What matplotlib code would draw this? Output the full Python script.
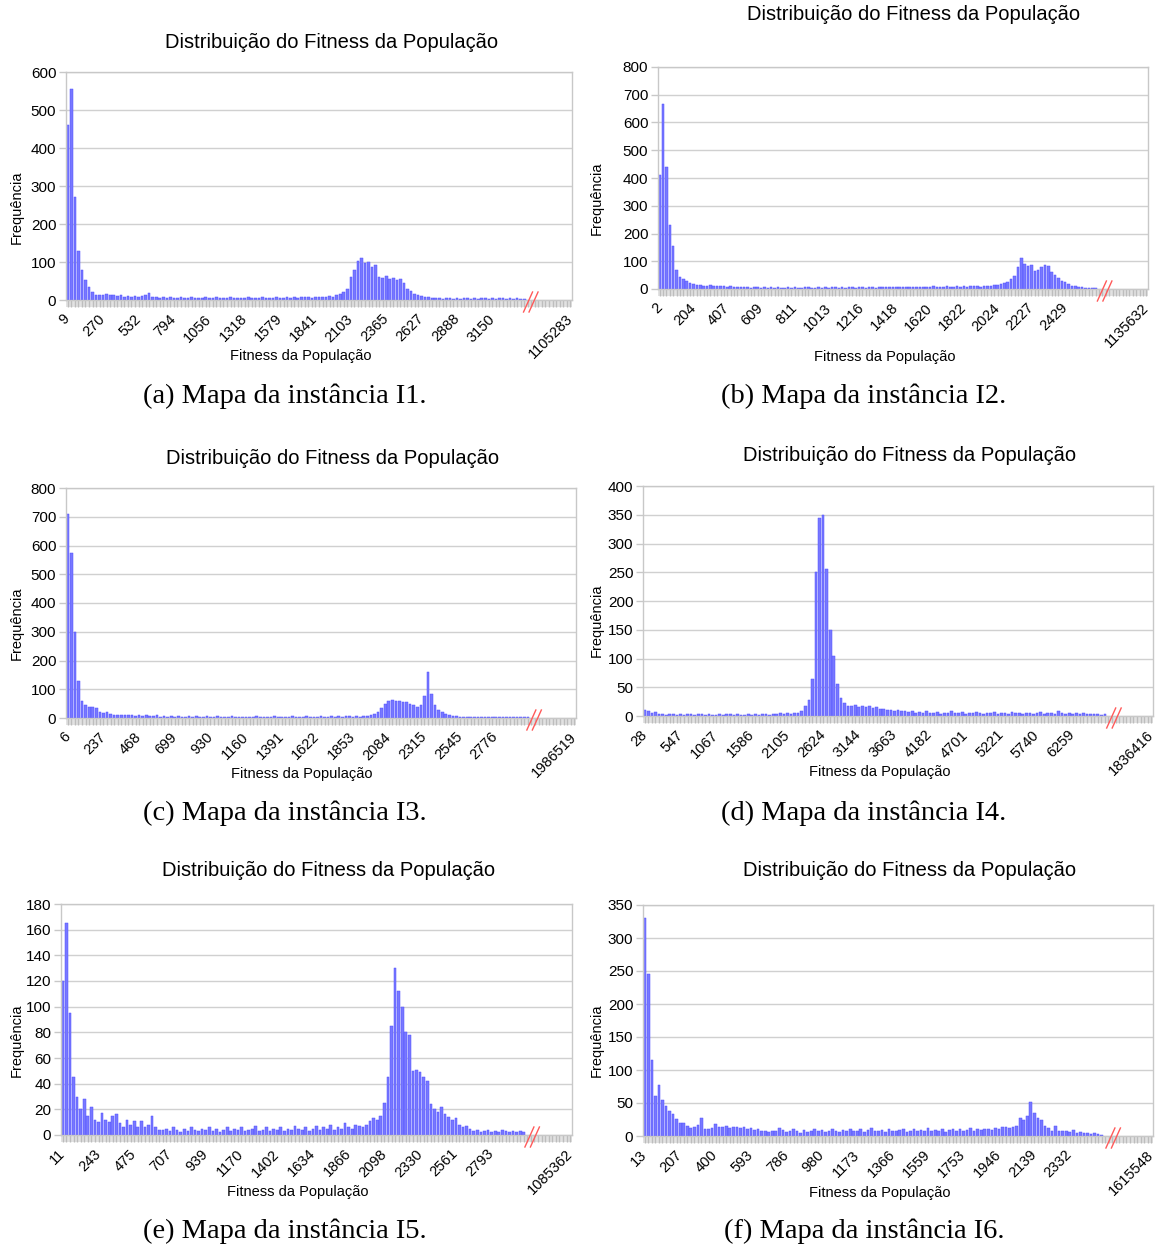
import matplotlib
matplotlib.use("Agg")
import matplotlib.pyplot as plt
from matplotlib.lines import Line2D
from matplotlib.patches import Rectangle

plt.rcParams['font.family'] = ['Liberation Sans', 'DejaVu Sans']

# ---------------------------------------------------------------- data
TITLE = "Distribuição do Fitness da População"
XLABEL = "Fitness da População"
YLABEL = "Frequência"

freq_i1 = [460, 555, 270, 130, 80, 53, 35, 20, 14, 13,
           12, 16, 12, 14, 11, 13, 8, 10, 7, 11,
           9, 10, 12, 18, 9, 8, 6, 7, 5, 8,
           6, 5, 9, 4, 6, 7, 5, 6, 4, 7,
           5, 6, 8, 4, 5, 6, 7, 5, 4, 6,
           5, 7, 4, 6, 5, 8, 4, 5, 6, 7,
           5, 6, 8, 6, 7, 6, 8, 7, 9, 6,
           8, 7, 9, 8, 10, 9, 12, 15, 22, 28,
           60, 78, 102, 110, 98, 100, 88, 92, 60, 58,
           62, 55, 57, 52, 55, 45, 28, 24, 17, 14,
           10, 9, 7, 5, 4, 5, 3, 4, 5, 3,
           4, 3, 5, 4, 3, 4, 3, 5, 4, 3,
           4, 3, 4, 5, 3, 4, 3, 4, 3, 3]
ticks_i1 = ["9", "270", "532", "794", "1056", "1318", "1579", "1841",
            "2103", "2365", "2627", "2888", "3150"]
last_i1 = "1105283"

freq_i2 = [410, 665, 440, 230, 155, 70, 45, 35, 28, 22,
           18, 15, 13, 12, 11, 13, 10, 12, 11, 10,
           9, 11, 8, 7, 9, 6, 8, 5, 7, 6,
           5, 6, 4, 7, 5, 6, 4, 5, 7, 5,
           6, 4, 5, 6, 7, 5, 4, 6, 5, 7,
           5, 6, 8, 5, 6, 4, 7, 6, 5, 6,
           7, 5, 6, 8, 5, 6, 7, 6, 8, 6,
           7, 8, 6, 7, 9, 7, 8, 6, 9, 7,
           8, 10, 7, 9, 8, 10, 9, 8, 11, 9,
           10, 9, 12, 10, 11, 8, 10, 12, 10, 14,
           15, 18, 22, 25, 35, 48, 80, 112, 90, 82,
           85, 65, 70, 80, 85, 82, 60, 50, 40, 30,
           25, 18, 12, 10, 8, 6, 5, 4, 4, 3]
ticks_i2 = ["2", "204", "407", "609", "811", "1013", "1216", "1418",
            "1620", "1822", "2024", "2227", "2429"]
last_i2 = "1135632"

freq_i3 = [710, 575, 300, 130, 60, 45, 38, 40, 36, 22,
           18, 20, 15, 12, 10, 11, 9, 12, 10, 8,
           9, 7, 10, 8, 7, 9, 5, 6, 4, 7,
           5, 6, 4, 5, 7, 4, 6, 5, 3, 6,
           4, 5, 6, 4, 5, 3, 6, 4, 5, 4,
           3, 5, 4, 6, 4, 3, 5, 4, 6, 5,
           4, 5, 3, 6, 4, 5, 4, 6, 5, 4,
           5, 6, 4, 5, 7, 5, 6, 5, 7, 6,
           5, 6, 5, 7, 8, 10, 15, 22, 35, 48,
           58, 62, 58, 60, 55, 57, 50, 45, 40, 45,
           75, 160, 85, 45, 28, 22, 15, 12, 8, 7,
           5, 4, 5, 3, 4, 3, 4, 5, 3, 4,
           3, 4, 3, 3, 4, 3, 2, 3, 3, 2]
ticks_i3 = ["6", "237", "468", "699", "930", "1160", "1391", "1622",
            "1853", "2084", "2315", "2545", "2776"]
last_i3 = "1986519"

freq_i4 = [10, 8, 5, 7, 4, 3, 2, 3, 4, 2,
           3, 2, 4, 3, 2, 3, 4, 2, 3, 2,
           1, 3, 2, 4, 3, 2, 3, 1, 2, 3,
           2, 3, 2, 4, 3, 2, 3, 4, 5, 3,
           6, 4, 5, 6, 8, 18, 28, 65, 250, 345,
           350, 255, 150, 105, 55, 32, 22, 18, 17, 19,
           15, 17, 16, 18, 14, 15, 13, 12, 10, 11,
           9, 10, 8, 9, 7, 8, 6, 7, 5, 8,
           6, 5, 7, 4, 6, 5, 8, 6, 5, 7,
           4, 6, 5, 7, 5, 4, 6, 5, 7, 4,
           5, 6, 4, 7, 5, 6, 4, 5, 6, 3,
           5, 7, 4, 5, 6, 4, 8, 5, 4, 6,
           3, 5, 4, 6, 3, 4, 3, 4, 2, 3]
ticks_i4 = ["28", "547", "1067", "1586", "2105", "2624", "3144", "3663",
            "4182", "4701", "5221", "5740", "6259"]
last_i4 = "1836416"

freq_i5 = [120, 165, 95, 45, 30, 20, 28, 15, 22, 12,
           10, 17, 12, 10, 15, 16, 9, 6, 12, 8,
           11, 6, 11, 6, 8, 15, 6, 4, 4, 5,
           3, 6, 4, 2, 5, 3, 6, 4, 3, 5,
           4, 6, 3, 5, 2, 4, 6, 3, 5, 4,
           6, 3, 4, 5, 7, 3, 4, 6, 3, 5,
           4, 6, 3, 5, 4, 7, 5, 4, 6, 3,
           5, 7, 4, 6, 5, 8, 4, 6, 5, 9,
           6, 5, 8, 7, 6, 8, 11, 13, 12, 15,
           25, 45, 85, 130, 112, 100, 80, 78, 50, 51,
           49, 45, 42, 24, 20, 18, 22, 16, 14, 12,
           13, 8, 6, 7, 5, 3, 4, 2, 3, 4,
           2, 3, 2, 4, 3, 2, 3, 2, 3, 2]
ticks_i5 = ["11", "243", "475", "707", "939", "1170", "1402", "1634",
            "1866", "2098", "2330", "2561", "2793"]
last_i5 = "1085362"

freq_i6 = [330, 245, 115, 60, 77, 55, 45, 38, 33, 26,
           20, 20, 15, 12, 14, 16, 27, 10, 11, 12,
           18, 14, 13, 15, 12, 14, 13, 12, 14, 10,
           12, 9, 11, 8, 7, 6, 8, 7, 12, 9,
           6, 8, 10, 7, 5, 9, 6, 8, 10, 7,
           9, 6, 8, 10, 7, 6, 9, 8, 11, 7,
           8, 10, 6, 9, 12, 7, 8, 9, 6, 10,
           8, 7, 9, 11, 6, 8, 10, 7, 9, 8,
           12, 7, 9, 8, 10, 6, 9, 11, 8, 10,
           7, 9, 12, 8, 10, 9, 10, 11, 9, 12,
           10, 14, 13, 12, 14, 15, 28, 25, 30, 52,
           35, 28, 24, 15, 12, 8, 15, 8, 7, 8,
           6, 9, 5, 6, 4, 5, 3, 4, 3, 2]
ticks_i6 = ["13", "207", "400", "593", "786", "980", "1173", "1366",
            "1559", "1753", "1946", "2139", "2332"]
last_i6 = "1615548"

captions = ["(a) Mapa da instância I1.", "(b) Mapa da instância I2.",
            "(c) Mapa da instância I3.", "(d) Mapa da instância I4.",
            "(e) Mapa da instância I5.", "(f) Mapa da instância I6."]

# ---------------------------------------------------------------- layout
W, H = 1160, 1246
fig = plt.figure(figsize=(W / 100, H / 100), dpi=100)


def fx(x):
    return x / W


def fy(y):
    return 1 - y / H


BAR_FACE = '#7878ff'
BAR_EDGE = '#5050ff'
GRID = '#d0d0d0'
FRAME = '#c8c8c8'
BAND_BG = '#e2e2e2'
BAND_TICK = '#bdbdbd'
BAND_PX = 7

panels = [
    dict(freq=freq_i1, ticks=ticks_i1, last=last_i1, ymax=600, ystep=100,
         box=(66, 72, 572, 300), n=143, brk=130.5,
         title=(332, 42), ylab=(17, 207), xlab=(301, 356), cap=(285, 396)),
    dict(freq=freq_i2, ticks=ticks_i2, last=last_i2, ymax=800, ystep=100,
         box=(658, 67, 1148, 289), n=145, brk=131.3,
         title=(914, 15), ylab=(597, 198), xlab=(885, 357), cap=(864, 396)),
    dict(freq=freq_i3, ticks=ticks_i3, last=last_i3, ymax=800, ystep=100,
         box=(66, 488, 576, 718), n=143, brk=130.4,
         title=(333, 458), ylab=(17, 623), xlab=(302, 774), cap=(285, 813)),
    dict(freq=freq_i4, ticks=ticks_i4, last=last_i4, ymax=400, ystep=50,
         box=(643, 486, 1153, 716), n=143, brk=131.2,
         title=(910, 456), ylab=(597, 620), xlab=(880, 772), cap=(864, 813)),
    dict(freq=freq_i5, ticks=ticks_i5, last=last_i5, ymax=180, ystep=20,
         box=(61, 904, 572, 1135), n=143, brk=131.0,
         title=(329, 871), ylab=(17, 1040), xlab=(298, 1192), cap=(285, 1231)),
    dict(freq=freq_i6, ticks=ticks_i6, last=last_i6, ymax=350, ystep=50,
         box=(643, 905, 1153, 1136), n=144, brk=131.9,
         title=(910, 871), ylab=(597, 1040), xlab=(880, 1193), cap=(864, 1231)),
]

for p, cap in zip(panels, captions):
    l, t, r, b = p['box']
    ax = fig.add_axes([fx(l), fy(b), (r - l) / W, (b - t) / H])
    n = p['n']
    vals = p['freq']
    ax.bar(range(len(vals)), vals, width=0.75, color=BAR_FACE,
           edgecolor=BAR_EDGE, linewidth=0.35, zorder=2)
    ax.set_xlim(-0.5, n - 0.5)
    ax.set_ylim(0, p['ymax'])
    ax.set_yticks(range(0, p['ymax'] + 1, p['ystep']))
    ax.grid(axis='y', color=GRID, linewidth=1.0, zorder=0)
    ax.set_axisbelow(True)

    # grey category band under the axis
    ax.add_patch(Rectangle((0, 0), 1, -BAND_PX / (b - t),
                           transform=ax.transAxes, clip_on=False,
                           facecolor=BAND_BG, edgecolor='none', zorder=0.5))

    major = list(range(0, 10 * len(p['ticks']), 10)) + [n - 1]
    ax.set_xticks(major)
    ax.set_xticklabels(p['ticks'] + [p['last']], rotation=45, ha='right',
                       va='center', rotation_mode='anchor')
    ax.set_xticks(range(n), minor=True)
    ax.tick_params(axis='x', which='both', length=5, width=1.0,
                   color=BAND_TICK, direction='out')
    ax.tick_params(axis='x', which='major', pad=7, labelsize=10.5)
    ax.tick_params(axis='y', length=5, width=1.0, color=FRAME, pad=2,
                   labelsize=11)
    for s in ax.spines.values():
        s.set_color(FRAME)
        s.set_linewidth(1.0)

    # axis break marks (two red slashes across the category band)
    x0, y0 = ax.transData.transform((p['brk'], 0))
    inv = fig.transFigure.inverted()
    for dx in (0, 5.5):
        (ax1, ay1), (ax2, ay2) = inv.transform(
            [(x0 - 6 + dx, y0 - 12), (x0 + 3 + dx, y0 + 8)])
        fig.add_artist(Line2D([ax1, ax2], [ay1, ay2], color='#ff5a5a',
                              linewidth=1.0))

    fig.text(fx(p['title'][0]), fy(p['title'][1]), TITLE, ha='center',
             va='center', fontsize=14.5)
    fig.text(fx(p['ylab'][0]), fy(p['ylab'][1]), YLABEL, ha='center',
             va='center', rotation=90, fontsize=10.5)
    fig.text(fx(p['xlab'][0]), fy(p['xlab'][1]), XLABEL, ha='center',
             va='center', fontsize=10.5)
    fig.text(fx(p['cap'][0]), fy(p['cap'][1]), cap, ha='center',
             va='center', fontsize=20.5,
             family=['Liberation Serif', 'DejaVu Serif'])

fig.savefig('out.png', dpi=100)
